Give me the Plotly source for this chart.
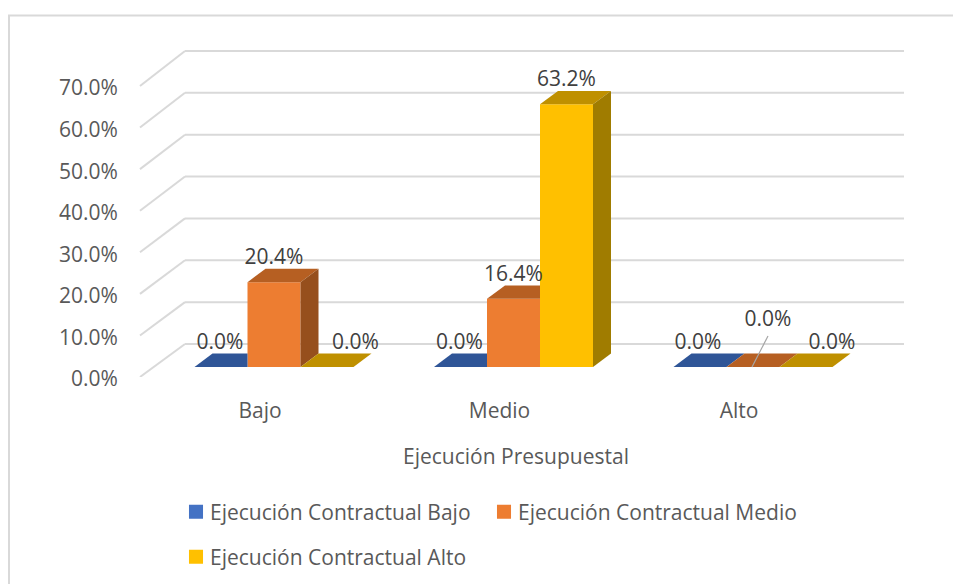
import plotly.graph_objects as go

# ---- data ----
categories = ["Bajo", "Medio", "Alto"]
series_names = ["Ejecución Contractual Bajo", "Ejecución Contractual Medio", "Ejecución Contractual Alto"]
bajo_values = [0.0, 0.0, 0.0]
medio_values = [20.4, 16.4, 0.0]
alto_values = [0.0, 63.2, 0.0]
y_ticks = [0, 10, 20, 30, 40, 50, 60, 70]

# ---- style ----
front_colors = ["#4472C4", "#ED7D31", "#FFC000"]
top_colors = ["#2F5597", "#B65F22", "#BF9000"]
side_colors = ["#2A4A85", "#964F1D", "#A07C00"]
GRID = "#D9D9D9"
FONT = "Open Sans"
FS = 21
W, H = 953, 584
L, R, T, B = 128, 49, 40, 207        # plot area in page pixels
PW, PH = W - L - R, H - T - B
PX_PER_UNIT = 4.157
PX_PER_CAT = 239.5
x_range = [-(274 - L) / PX_PER_CAT, (W - R - 274) / PX_PER_CAT]
y_range = [0, PH / PX_PER_UNIT]
WALL_X0 = -(274 - 140) / PX_PER_CAT  # front edge of the side wall

BAR_W = 53 / PX_PER_CAT
FLOOR = 10 / PX_PER_UNIT            # bars stand on a floor raised above the axis line
DX = 18 / PX_PER_CAT                # depth of a bar
DY = 13.4 / PX_PER_UNIT
WALL_DX = 45 / PX_PER_CAT           # depth of the side wall
WALL_DY = 33 / PX_PER_UNIT
WALL_STRETCH = 1.007
LABEL_UP = 23.2 / PX_PER_UNIT
CAT_LABEL_SHIFT = 14 / PX_PER_CAT
label_dx = [[-1 / PX_PER_CAT, 0, 28.5 / PX_PER_CAT],
            [-1 / PX_PER_CAT, 0, 0],
            [-2 / PX_PER_CAT, 15 / PX_PER_CAT, 26 / PX_PER_CAT]]
label_dy = [[0, 0, 0], [0, 0, 0], [0, 23 / PX_PER_UNIT, 0]]

series = [bajo_values, medio_values, alto_values]
legend_ids = ["legend", "legend2", "legend3"]
fig = go.Figure()

# front faces
for s, vals in enumerate(series):
    fig.add_trace(go.Bar(
        x=list(range(len(categories))), y=vals, base=FLOOR,
        name=series_names[s], marker=dict(color=front_colors[s], line=dict(width=0)),
        legend=legend_ids[s], showlegend=True, hoverinfo="skip"))

def face(xs, ys, color):
    fig.add_trace(go.Scatter(x=xs, y=ys, mode="lines", fill="toself", fillcolor=color,
                             line=dict(width=0), showlegend=False, hoverinfo="skip"))

# side and top faces, clipped where a taller right-hand neighbour hides them
for c in range(len(categories)):
    for s in range(3):
        v = series[s][c]
        x0 = c + (s - 1.5) * BAR_W
        x1 = x0 + BAR_W
        y = FLOOR + v
        hidden = s < 2 and series[s + 1][c] > v
        if hidden:
            xs = [x0, x0 + DX, x1, x1]
        else:
            xs = [x0, x0 + DX, x1 + DX, x1]
        face(xs, [y, y + DY, y + DY, y], top_colors[s])
        if v > 0 and not hidden:
            face([x1, x1 + DX, x1 + DX, x1], [FLOOR, FLOOR + DY, y + DY, y], side_colors[s])

# data labels
lx, ly, lt = [], [], []
for c in range(len(categories)):
    for s in range(3):
        v = series[s][c]
        lx.append(c + (s - 1) * BAR_W + label_dx[c][s])
        ly.append(FLOOR + v + LABEL_UP + label_dy[c][s])
        lt.append(f"{v:.1f}%")
fig.add_trace(go.Scatter(x=lx, y=ly, mode="text", text=lt, textposition="middle center",
                         textfont=dict(family=FONT, size=FS, color="#404040"),
                         showlegend=False, hoverinfo="skip", cliponaxis=False))

shapes = []
# back wall and side wall grid lines
for t in y_ticks:
    yb = t * WALL_STRETCH + WALL_DY
    shapes.append(dict(type="line", xref="x", yref="y", layer="below", x0=WALL_X0 + WALL_DX, x1=x_range[1],
                       y0=yb, y1=yb, line=dict(color=GRID, width=2)))
    shapes.append(dict(type="line", xref="x", yref="y", layer="below", x0=WALL_X0, x1=WALL_X0 + WALL_DX,
                       y0=t, y1=yb, line=dict(color=GRID, width=2)))
# leader line of the Alto/Medio label
shapes.append(dict(type="line", xref="x", yref="y", x0=2 - 1 / PX_PER_CAT, x1=2 + 15 / PX_PER_CAT,
                   y0=FLOOR, y1=FLOOR + 31 / PX_PER_UNIT, line=dict(color="#A6A6A6", width=1.2)))

def x_paper(px):
    return (px - L) / PW
def y_paper(px):
    return (H - B - px) / PH

# chart frame, open past the right and bottom edges of the page
shapes.append(dict(type="rect", xref="paper", yref="paper", layer="below",
                   x0=x_paper(9), x1=x_paper(W + 20), y0=y_paper(H + 20), y1=y_paper(15.5),
                   line=dict(color=GRID, width=2)))

legend_common = dict(xanchor="left", yanchor="middle", bgcolor="rgba(0,0,0,0)",
                     font=dict(family=FONT, size=FS, color="#595959"),
                     itemclick=False, itemdoubleclick=False, borderwidth=0)

fig.update_layout(
    width=W, height=H, margin=dict(l=L, r=R, t=T, b=B, pad=0, autoexpand=False), autosize=False,
    paper_bgcolor="white", plot_bgcolor="rgba(0,0,0,0)",
    barmode="group", bargap=1 - 3 * BAR_W, bargroupgap=0,
    font=dict(family=FONT, color="#595959", size=FS),
    shapes=shapes,
    showlegend=True,
    legend=dict(x=x_paper(170), y=y_paper(512), **legend_common),
    legend2=dict(x=x_paper(478), y=y_paper(512), **legend_common),
    legend3=dict(x=x_paper(170), y=y_paper(557), **legend_common),
    xaxis=dict(range=x_range, tickmode="array",
               tickvals=[c - CAT_LABEL_SHIFT for c in range(len(categories))], ticktext=categories,
               showgrid=False, zeroline=False, showline=False, ticks="outside", ticklen=15,
               tickcolor="rgba(0,0,0,0)", tickfont=dict(family=FONT, size=FS, color="#595959"),
               title=dict(text="Ejecución Presupuestal", standoff=26,
                          font=dict(family=FONT, size=FS, color="#595959")), fixedrange=True),
    yaxis=dict(range=y_range, tickmode="array", tickvals=y_ticks,
               ticktext=[f"{t:.1f}%" for t in y_ticks], ticklabelshift=2,
               showgrid=False, zeroline=False, showline=False, ticks="outside", ticklen=5,
               tickcolor="rgba(0,0,0,0)",
               tickfont=dict(family=FONT, size=FS, color="#595959"), fixedrange=True),
)

# the legend swatches sit closer to their text and are slightly larger than Plotly's default
post = """
document.body.style.margin='0';
document.querySelectorAll('.legendpoints path').forEach(function(p){
  p.setAttribute('transform','translate(26,0) scale(1.17)');
});
"""
fig.write_html("out.html", config={"displayModeBar": False}, post_script=post)
